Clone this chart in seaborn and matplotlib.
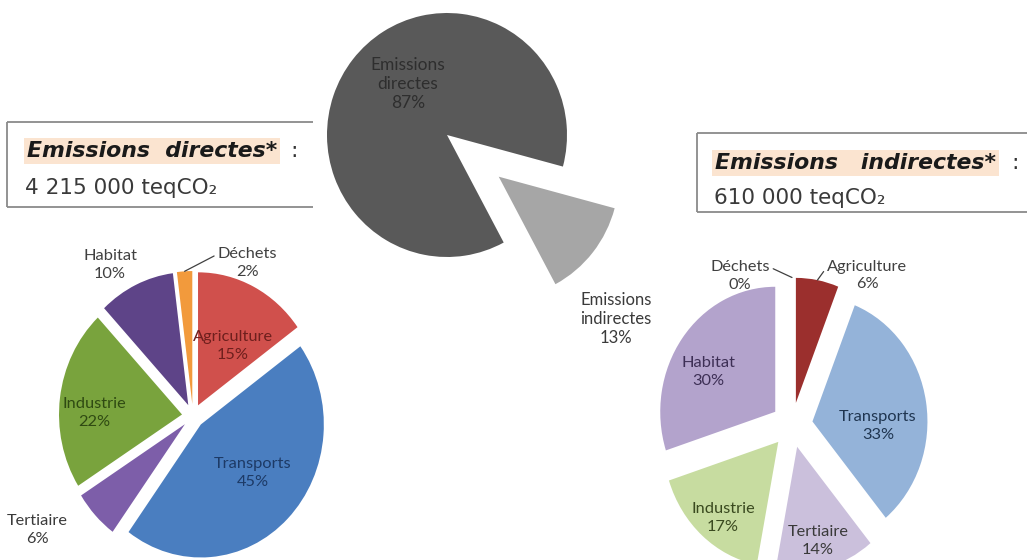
import numpy as np
import matplotlib
matplotlib.use("Agg")
import matplotlib.pyplot as plt
import seaborn as sns

# ---------------- data ----------------
top_labels = ["Emissions\ndirectes", "Emissions\nindirectes"]
top_values = [87, 13]

direct_categories = ["Agriculture", "Transports", "Tertiaire", "Industrie", "Habitat", "Déchets"]
direct_values = [15, 45, 6, 22, 10, 2]

indirect_categories = ["Agriculture", "Transports", "Tertiaire", "Industrie", "Habitat", "Déchets"]
indirect_values = [6, 33, 14, 17, 30, 0]

direct_title = "Emissions  directes*"
direct_total = "4 215 000 teqCO₂"
indirect_title = "Emissions   indirectes*"
indirect_total = "610 000 teqCO₂"

# ---------------- style ----------------
sns.set_theme(style="white")
plt.rcParams["font.family"] = ["DejaVu Sans"]
LABEL_FONT = ["Lato", "DejaVu Sans"]

top_colors = ["#595959", "#a6a6a6"]
direct_colors = ["#d0504c", "#4a7ec0", "#7d5ea9", "#79a33d", "#5e4488", "#f29a3c"]
direct_text = ["#6e1f1d", "#1d3a66", "#3a3a3a", "#2f4a12", "#404040", "#404040"]
indirect_colors = ["#9b2f2d", "#94b3d9", "#cbc0dc", "#c7dca0", "#b3a3cc", "#808080"]
indirect_text = ["#404040", "#1f3550", "#3a3a3a", "#3a4a1f", "#3d2f55", "#404040"]

W, H = 1027, 560
fig = plt.figure(figsize=(W / 100, H / 100), dpi=100)

# background axes in pixel coordinates for the text boxes
bg = fig.add_axes([0, 0, 1, 1])
bg.set_xlim(0, W)
bg.set_ylim(H, 0)
bg.axis("off")


def pie_axes():
    ax = fig.add_axes([0, 0, 1, 1])
    ax.patch.set_alpha(0)
    return ax


def finish(ax, cx, cy, rx, ry):
    ax.set_aspect("auto")
    ax.set_xlim(-cx / rx, (W - cx) / rx)
    ax.set_ylim(-(H - cy) / ry, cy / ry)
    ax.axis("off")


def lab_pos(wedge, dist, dtheta):
    th = np.deg2rad((wedge.theta1 + wedge.theta2) / 2 + dtheta)
    x0, y0 = wedge.center
    return x0 + dist * wedge.r * np.cos(th), y0 + dist * wedge.r * np.sin(th)


def place(ax, wedge, text, dist, dtheta, color, size=11.8, ls=1.3):
    x, y = lab_pos(wedge, dist, dtheta)
    ax.text(x, y, text, ha="center", va="center", color=color,
            fontsize=size, family=LABEL_FONT, linespacing=ls)


def leader(ax, wedge, text, dist, dtheta, color, relpos, size=11.8):
    x, y = lab_pos(wedge, dist, dtheta)
    px, py = lab_pos(wedge, 1.0, 0)
    ax.annotate(text, xy=(px, py), xytext=(x, y), ha="center", va="center",
                color=color, fontsize=size, family=LABEL_FONT, linespacing=1.3,
                arrowprops=dict(arrowstyle="-", color="#404040", lw=0.9,
                                shrinkA=0, shrinkB=0, relpos=relpos))


wp = dict(linewidth=0)

# ---------------- top pie ----------------
ax_top = pie_axes()
wt, _ = ax_top.pie(top_values, colors=top_colors, startangle=-15,
                   counterclock=True, explode=[0, 0.55], wedgeprops=wp)
place(ax_top, wt[0], f"{top_labels[0]}\n{top_values[0]}%", 0.53, -13.7, "#2e2e2e", size=12.5, ls=1.2)
place(ax_top, wt[1], f"{top_labels[1]}\n{top_values[1]}%", 1.52, -11.7, "#3a3a3a", size=12, ls=1.2)
finish(ax_top, 447, 135, 120, 122)

# ---------------- left pie (direct) ----------------
ax_l = pie_axes()
wl, _ = ax_l.pie(direct_values, colors=direct_colors, startangle=90,
                 counterclock=False, explode=[0.09] * len(direct_values), wedgeprops=wp)
l_dist = [0.53, 0.56, 1.44, 0.71, 1.23, 1.15]
l_dth = [-5.5, 4.3, -9.7, 6.2, 5.9, -26.4]
for i, (c, v) in enumerate(zip(direct_categories, direct_values)):
    txt = f"{c}\n{v}%"
    if c == "Déchets":
        leader(ax_l, wl[i], txt, l_dist[i], l_dth[i], direct_text[i], (0.0, 0.78))
    else:
        place(ax_l, wl[i], txt, l_dist[i], l_dth[i], direct_text[i])
finish(ax_l, 193, 416, 123, 133)

# ---------------- right pie (indirect) ----------------
ax_r = pie_axes()
wr, _ = ax_r.pie(indirect_values, colors=indirect_colors, startangle=90,
                 counterclock=False, explode=[0.18] * len(indirect_values), wedgeprops=wp)
r_dist = [1.19, 0.57, 0.775, 0.776, 0.665, 1.108]
r_dth = [-20.5, -12.6, -0.9, 3.1, 7.4, 24.0]
for i, (c, v) in enumerate(zip(indirect_categories, indirect_values)):
    txt = f"{c}\n{v}%"
    if c == "Agriculture":
        leader(ax_r, wr[i], txt, r_dist[i], r_dth[i], indirect_text[i], (0.0, 0.78))
    elif c == "Déchets":
        leader(ax_r, wr[i], txt, r_dist[i], r_dth[i], indirect_text[i], (1.0, 0.78))
    else:
        place(ax_r, wr[i], txt, r_dist[i], r_dth[i], indirect_text[i])
finish(ax_r, 792, 425, 115, 125)

# ---------------- text boxes ----------------
box_kw = dict(color="#8a8a8a", lw=1.3, solid_capstyle="butt")
bg.plot([7, 313], [122, 122], **box_kw)
bg.plot([7, 313], [207, 207], **box_kw)
bg.plot([7, 7], [122, 207], **box_kw)
bg.plot([697, W], [133, 133], **box_kw)
bg.plot([697, W], [212, 212], **box_kw)
bg.plot([697, 697], [133, 212], **box_kw)

hl = dict(boxstyle="square,pad=0.12", facecolor="#fbe4d0", edgecolor="none")
bg.text(27, 151, direct_title, fontsize=15.8, fontweight="bold", fontstyle="italic",
        color="#1a1a1a", va="center", ha="left", bbox=hl)
bg.text(290, 151, ":", fontsize=15.8, color="#333333", va="center", ha="left")
bg.text(25, 188, direct_total, fontsize=15.5, color="#3a3a3a", va="center", ha="left")

bg.text(715, 163, indirect_title, fontsize=15.8, fontweight="bold", fontstyle="italic",
        color="#1a1a1a", va="center", ha="left", bbox=hl)
bg.text(1011, 163, ":", fontsize=15.8, color="#333333", va="center", ha="left")
bg.text(714, 198, indirect_total, fontsize=15.5, color="#3a3a3a", va="center", ha="left")

fig.savefig("out.png", dpi=100, facecolor="white")
